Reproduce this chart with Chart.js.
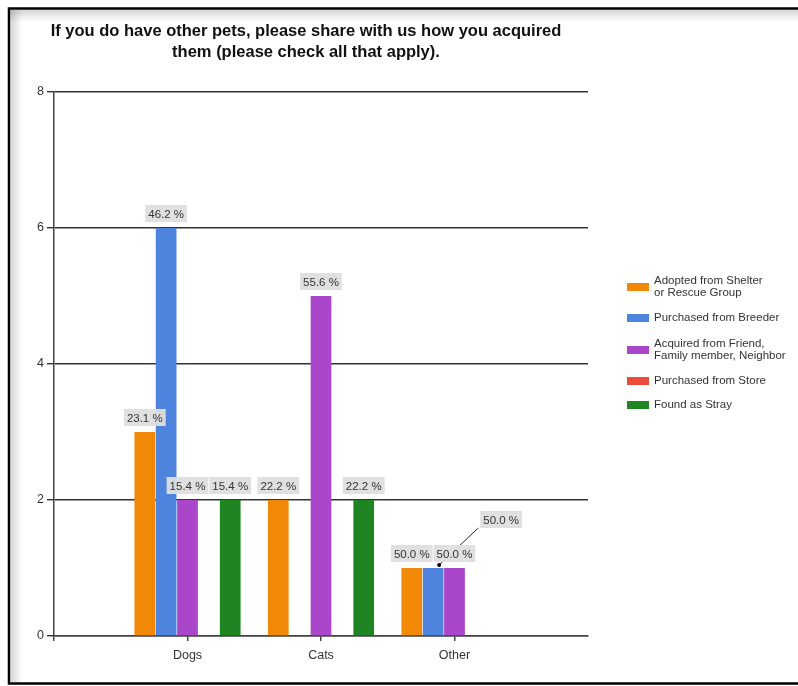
<!DOCTYPE html>
<html>
<head>
<meta charset="utf-8">
<style>
  body { margin: 0; background: #fff; }
  #wrap { width: 798px; height: 686px; }
</style>
<script src="https://cdn.jsdelivr.net/npm/chart.js@4/dist/chart.umd.min.js"></script>
</head>
<body>
<div id="wrap"><canvas id="chart-pets" width="798" height="686"></canvas></div>
<script>
// Pets survey: how other pets were acquired
const titleLines = [
  "If you do have other pets, please share with us how you acquired",
  "them (please check all that apply).",
];
const categories = ["Dogs", "Cats", "Other"];
const yTicks = [0, 2, 4, 6, 8];

const seriesNames = [
  "Adopted from Shelter\nor Rescue Group",
  "Purchased from Breeder",
  "Acquired from Friend,\nFamily member, Neighbor",
  "Purchased from Store",
  "Found as Stray",
];
const seriesColors = ["#F28807", "#4E84DE", "#A946CA", "#EB4B3B", "#1F8522"];

// counts per category (Dogs, Cats, Other)
const adopted = [3, 2, 1];
const breeder = [6, 0, 1];
const friend = [2, 5, 1];
const store = [0, 0, 0];
const stray = [2, 2, 0];

// share of respondents per category, shown above each bar
const adoptedPct = [23.1, 22.2, 50.0];
const breederPct = [46.2, 0, 50.0];
const friendPct = [15.4, 55.6, 50.0];
const storePct = [0, 0, 0];
const strayPct = [15.4, 22.2, 0];

const counts = [adopted, breeder, friend, store, stray];
const percents = [adoptedPct, breederPct, friendPct, storePct, strayPct];

// empty slots either side so the groups sit at 1, 2, 3 on a 0..4 axis
const labels = ["", ...categories, ""];
const pad = (arr) => [null, ...arr, null];

const FONT = "'Liberation Sans', Arial, sans-serif";

const framePlugin = {
  id: "frame",
  beforeDraw(chart) {
    const ctx = chart.ctx;
    ctx.save();
    ctx.fillStyle = "#fff";
    ctx.fillRect(0, 0, chart.width, chart.height);
    // soft inner shadow
    let g = ctx.createLinearGradient(0, 10, 0, 22);
    g.addColorStop(0, "rgba(0,0,0,0.16)");
    g.addColorStop(1, "rgba(0,0,0,0)");
    ctx.fillStyle = g;
    ctx.fillRect(10, 10, chart.width - 10, 12);
    g = ctx.createLinearGradient(11, 0, 22, 0);
    g.addColorStop(0, "rgba(0,0,0,0.16)");
    g.addColorStop(1, "rgba(0,0,0,0)");
    ctx.fillStyle = g;
    ctx.fillRect(11, 10, 11, 672);
    // border
    ctx.strokeStyle = "#000";
    ctx.lineWidth = 2.5;
    ctx.beginPath();
    ctx.moveTo(chart.width, 8.5);
    ctx.lineTo(9, 8.5);
    ctx.lineTo(9, 683.5);
    ctx.lineTo(chart.width, 683.5);
    ctx.stroke();
    ctx.restore();
  },
};

const titlePlugin = {
  id: "titleText",
  afterDraw(chart) {
    const ctx = chart.ctx;
    ctx.save();
    ctx.font = "bold 16.5px " + FONT;
    ctx.fillStyle = "#111";
    ctx.textAlign = "center";
    ctx.textBaseline = "middle";
    titleLines.forEach((line, i) => ctx.fillText(line, 306, 31 + i * 21));
    ctx.restore();
  },
};

const legendPlugin = {
  id: "sideLegend",
  afterDraw(chart) {
    const ctx = chart.ctx;
    const rows = [287, 318, 350, 381, 405];
    ctx.save();
    ctx.font = "11.5px " + FONT;
    ctx.textBaseline = "middle";
    ctx.textAlign = "left";
    seriesNames.forEach((name, i) => {
      const y = rows[i];
      ctx.fillStyle = seriesColors[i];
      ctx.fillRect(627, y - 4, 22, 8);
      ctx.fillStyle = "#333";
      const parts = name.split("\n");
      parts.forEach((p, j) => {
        ctx.fillText(p, 654, y + (j - (parts.length - 1) / 2) * 12);
      });
    });
    ctx.restore();
  },
};

// value boxes above the bars, nudged up and aside when they collide
const valueLabelPlugin = {
  id: "valueLabels",
  afterDatasetsDraw(chart) {
    const ctx = chart.ctx;
    ctx.save();
    ctx.font = "11.5px " + FONT;
    ctx.textAlign = "center";
    ctx.textBaseline = "middle";
    const placed = [];
    for (let c = 0; c < categories.length; c++) {
      placed.length = 0;
      for (let s = 0; s < counts.length; s++) {
        const v = counts[s][c];
        if (!v) continue;
        const bar = chart.getDatasetMeta(s).data[c + 1];
        const text = percents[s][c].toFixed(1) + " %";
        const w = ctx.measureText(text).width + 6;
        const h = 17;
        let cx = bar.x;
        let cy = bar.y - 6 - h / 2;
        const hit = placed.some((b) => Math.abs(b.cx - cx) < (b.w + w) / 2 && Math.abs(b.cy - cy) < h);
        let moved = false;
        if (hit) {
          cx += 68;
          cy -= 34;
          moved = true;
        }
        ctx.fillStyle = "rgba(222,222,222,0.95)";
        ctx.fillRect(cx - w / 2, cy - h / 2, w, h);
        ctx.fillStyle = "#333";
        ctx.fillText(text, cx, cy + 1);
        if (moved) {
          ctx.strokeStyle = "#222";
          ctx.lineWidth = 1;
          ctx.beginPath();
          ctx.moveTo(cx - w / 2 - 2, cy + h / 2);
          ctx.lineTo(bar.x + 6, bar.y - 3);
          ctx.stroke();
          ctx.fillStyle = "#000";
          ctx.beginPath();
          ctx.arc(bar.x + 6, bar.y - 3, 2, 0, Math.PI * 2);
          ctx.fill();
        }
        placed.push({ cx, cy, w });
      }
    }
    ctx.restore();
  },
};

new Chart(document.getElementById("chart-pets"), {
  type: "bar",
  data: {
    labels: labels,
    datasets: counts.map((arr, i) => ({
      label: seriesNames[i],
      data: pad(arr),
      backgroundColor: seriesColors[i],
      borderWidth: 0,
      categoryPercentage: 0.8,
      barPercentage: 0.97,
    })),
  },
  options: {
    responsive: false,
    animation: false,
    layout: { padding: { left: 20, top: 92, right: 210, bottom: 20 } },
    plugins: {
      legend: { display: false },
      title: { display: false },
      tooltip: { enabled: false },
    },
    scales: {
      x: {
        offset: false,
        afterFit: (scale) => { scale.height = 30; },
        grid: {
          offset: false,
          drawOnChartArea: false,
          tickLength: 5,
          lineWidth: 1.5,
          color: (ctx) => (ctx.index === labels.length - 1 ? "rgba(0,0,0,0)" : "#444"),
        },
        border: { color: "#444", width: 1.5 },
        ticks: {
          autoSkip: false,
          maxRotation: 0,
          padding: 7,
          color: "#333",
          font: { family: FONT, size: 12.5 },
        },
      },
      y: {
        min: 0,
        max: 8,
        afterFit: (scale) => { scale.width = 34; },
        afterBuildTicks: (scale) => { scale.ticks = yTicks.map((v) => ({ value: v })); },
        grid: { color: "#333", lineWidth: 1.4, tickLength: 7 },
        border: { color: "#444", width: 1.5 },
        ticks: {
          padding: 3,
          color: "#333",
          font: { family: FONT, size: 12.5 },
        },
      },
    },
  },
  plugins: [framePlugin, titlePlugin, legendPlugin, valueLabelPlugin],
});
</script>
</body>
</html>
